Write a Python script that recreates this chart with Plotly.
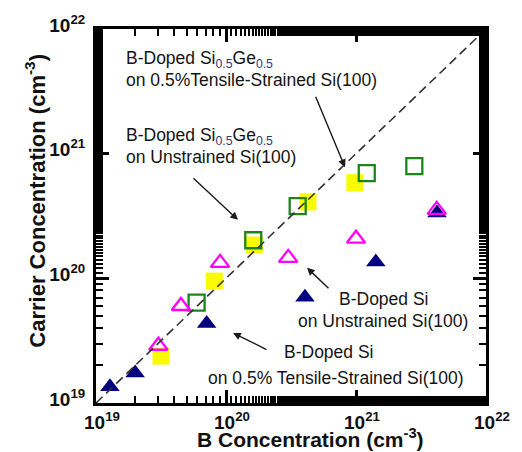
import plotly.graph_objects as go

# --- data ---
navy_x = [1.28e19, 2.0e19, 7.1e19, 4.05e20, 1.42e21, 4.2e21]
navy_y = [1.35e19, 1.74e19, 4.35e19, 7.05e19, 1.35e20, 3.34e20]

magenta_x = [3.02e19, 4.5e19, 9.0e19, 3.01e20, 1.0e21, 4.18e21]
magenta_y = [2.88e19, 6.0e19, 1.33e20, 1.46e20, 2.08e20, 3.54e20]

green_x = [5.94e19, 1.62e20, 3.56e20, 1.21e21, 2.81e21]
green_y = [6.39e19, 2.02e20, 3.8e20, 6.98e20, 7.94e20]

yellow_x = [3.16e19, 8.13e19, 1.65e20, 4.27e20, 9.8e20]
yellow_y = [2.38e19, 9.5e19, 1.85e20, 4.1e20, 5.85e20]

line_x = [1e19, 1e22]
line_y = [1e19, 1e22]

tick_vals = [1e19, 1e20, 1e21, 1e22]
tick_text = ["10<sup>19</sup>", "10<sup>20</sup>", "10<sup>21</sup>", "10<sup>22</sup>"]

x_title = "<b>B Concentration (cm<sup>-3</sup>)</b>"
y_title = "<b>Carrier Concentration (cm<sup>-3</sup>)</b>"

FONT = "Liberation Sans, Arial, sans-serif"

W, H = 522, 452
PL, PR, PT, PB = 96, 486, 13, 403
L, T, R, B = PL, PT, W - PR, H - PB
pw, ph = PR - PL, PB - PT

fig = go.Figure()
fig.add_trace(go.Scatter(x=yellow_x, y=yellow_y, mode="markers",
                         marker=dict(symbol="square", size=17, color="#fafa00", line=dict(width=0))))
fig.add_trace(go.Scatter(x=green_x, y=green_y, mode="markers",
                         marker=dict(symbol="square-open", size=16, color="#1c861c", line=dict(width=2.3, color="#1c861c"))))
fig.add_trace(go.Scatter(x=navy_x, y=navy_y, mode="markers",
                         marker=dict(symbol="triangle-up", size=17, color="#000080", line=dict(width=0))))
fig.add_trace(go.Scatter(x=magenta_x, y=magenta_y, mode="markers",
                         marker=dict(symbol="triangle-up-open", size=16, color="#ff00ff", line=dict(width=2.3, color="#ff00ff"))))
fig.add_trace(go.Scatter(x=line_x, y=line_y, mode="lines",
                         line=dict(color="#333333", width=1.6, dash="9px,5px")))

tickfont = dict(family=FONT, size=19, color="#111111", weight="bold")
minor = dict(ticks="inside", ticklen=7, tickwidth=2, tickcolor="black", showgrid=False)
base = dict(type="log", range=[19, 22], tickvals=tick_vals, ticktext=tick_text, ticks="inside", ticklen=13,
            tickwidth=2.5, tickcolor="black", showgrid=False, zeroline=False, minor=minor,
            showline=True, linecolor="black", linewidth=3, mirror="ticks",
            tickfont=tickfont, ticklabeloverflow="allow")

fig.update_layout(
    xaxis=dict(**base, ticklabelshift=6, ticklabelstandoff=0),
    yaxis=dict(**base, ticklabelshift=-4, ticklabelstandoff=4),
)

text_font = dict(family=FONT, size=17.5, color="#141414")
SUB = "#2a3a78"

annotations = [
    dict(x=125, y=45, text=f"B-Doped Si<sub><span style='color:{SUB}'>0.5</span></sub>Ge<sub><span style='color:{SUB}'>0.5</span></sub>", xanchor="left"),
    dict(x=125, y=66, text="on 0.5%Tensile-Strained Si(100)", xanchor="left"),
    dict(x=125, y=125, text=f"B-Doped Si<sub><span style='color:{SUB}'>0.5</span></sub>Ge<sub><span style='color:{SUB}'>0.5</span></sub>", xanchor="left"),
    dict(x=125, y=146, text="on Unstrained Si(100)", xanchor="left"),
    dict(x=384, y=295, text="B-Doped Si", xanchor="center"),
    dict(x=383, y=317, text="on Unstrained Si(100)", xanchor="center"),
    dict(x=329, y=350, text="B-Doped Si", xanchor="center"),
    dict(x=336, y=377, text="on 0.5% Tensile-Strained Si(100)", xanchor="center"),
]
anns = []
for a in annotations:
    anns.append(dict(xref="paper", yref="paper",
                     x=(a["x"] - PL) / pw, y=1 - (a["y"] - PT) / ph,
                     text=a["text"], showarrow=False, xanchor=a["xanchor"], yanchor="middle",
                     borderpad=0, font=text_font))

# axis titles placed as annotations (page coordinates)
anns.append(dict(xref="paper", yref="paper", x=(310 - PL) / pw, y=1 - (440 - PT) / ph,
                 text=x_title, showarrow=False, xanchor="center", yanchor="middle",
                 borderpad=0, font=dict(family=FONT, size=21, color="#111111")))
anns.append(dict(xref="paper", yref="paper", x=(35 - PL) / pw, y=1 - (192 - PT) / ph,
                 text=y_title, showarrow=False, xanchor="center", yanchor="middle",
                 textangle=-90, borderpad=0, font=dict(family=FONT, size=22, color="#111111")))

arrows = [
    ((20.915, 20.892), (20.685, 21.469)),
    ((20.092, 20.469), (19.738, 20.815)),
    ((20.623, 20.085), (20.8, 19.908)),
    ((20.054, 19.562), (20.323, 19.423)),
]
for (hx, hy), (tx, ty) in arrows:
    anns.append(dict(xref="x", yref="y", axref="x", ayref="y",
                     x=hx, y=hy, ax=tx, ay=ty, text="", showarrow=True,
                     arrowhead=2, arrowsize=1.1, arrowwidth=1.4, arrowcolor="#1a1a1a"))

fig.update_layout(
    width=W, height=H,
    margin=dict(l=L, r=R, t=T, b=B),
    paper_bgcolor="white", plot_bgcolor="white",
    showlegend=False,
    annotations=anns,
)

fig.write_html("out.html", config={"displayModeBar": False},
               post_script="document.body.style.margin='0px';")
